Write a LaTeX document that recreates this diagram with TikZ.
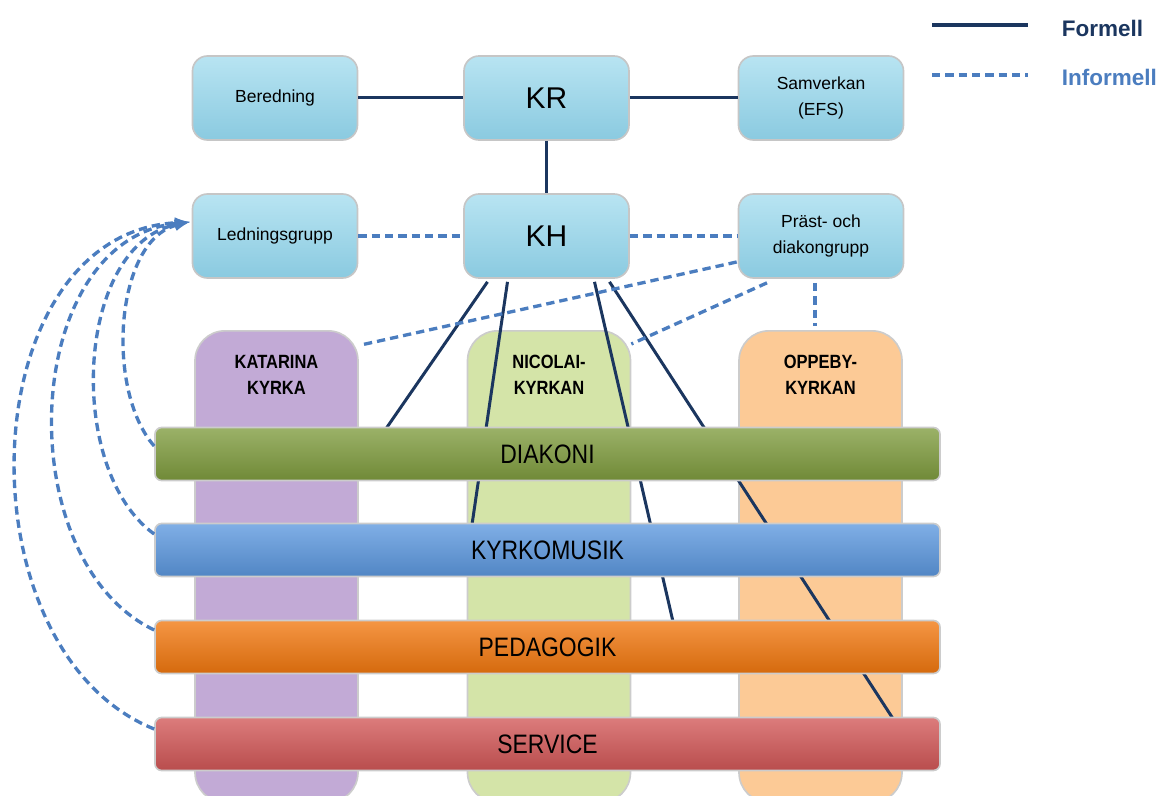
\documentclass[tikz,border=0pt]{standalone}
\usepackage{fontspec}
\setmainfont{Liberation Sans}
\newfontfamily\narrowfont{Liberation Sans}[FakeStretch=0.86]
\usepackage{xcolor}
\usetikzlibrary{calc}
\pgfdeclarelayer{background}
\pgfsetlayers{background,main}
\tikzset{>=latex}
\definecolor{formellc}{HTML}{1B365F}
\definecolor{informellc}{HTML}{4B7DBF}
\definecolor{boxtop}{HTML}{B8E4F2}
\definecolor{boxbot}{HTML}{8ACAE0}
\definecolor{katarinac}{HTML}{C2AAD6}
\definecolor{nicolaic}{HTML}{D4E4A8}
\definecolor{oppebyc}{HTML}{FCCA96}
\definecolor{diakonic}{HTML}{7F9C3E}
\definecolor{musikc}{HTML}{5C98DF}
\definecolor{pedac}{HTML}{F2780F}
\definecolor{servicec}{HTML}{D25757}
\tikzset{
	box/.style={
			draw=gray!45, line width=1pt, rounded corners=9pt,
			top color=boxtop, bottom color=boxbot,
			minimum width=99pt, minimum height=50.4pt, align=center,
			font=\fontsize{10.5}{15.6}\selectfont
		},
	bigbox/.style={box, font=\fontsize{18}{20}\selectfont},
	church/.style={
			draw=gray!40, line width=1pt, rounded corners=18pt, fill=#1,
			minimum width=97.8pt, minimum height=283pt, anchor=north
		},
	churchlabel/.style={
			label distance=-42pt, align=center,
			font=\narrowfont\bfseries\fontsize{11.5}{15.6}\selectfont
		},
	bar/.style={
			draw=gray!40, line width=1pt, rounded corners=4pt,
			top color=#1!78!white, bottom color=#1!88!black,
			minimum width=471pt, minimum height=31.8pt,
			font=\narrowfont\fontsize{16}{18}\selectfont
		},
	formell/.style={draw=formellc, line width=1.8pt},
	informell/.style={draw=informellc, line width=2pt, dash pattern=on 5pt off 3pt}
}

\begin{document}
\begin{tikzpicture}[x=0.6pt,y=-0.6pt]
	\useasboundingbox (0,0) rectangle (1163,796);

	% legend
	\coordinate (formA) at (932,25);
	\coordinate (formB) at (1028,25);
	\coordinate (infA) at (932,75);
	\coordinate (infB) at (1028,75);
	\node[anchor=west, text=formellc, font=\bfseries\fontsize{13.5}{16}\selectfont] (formtxt) at (1056,28) {Formell};
	\node[anchor=west, text=informellc, font=\bfseries\fontsize{13.5}{16}\selectfont] (inftxt) at (1056,77) {Informell};
	\draw[formell, line width=2.4pt] (formA) -- (formB);
	\draw[informell, line width=2.4pt] (infA) -- (infB);

	% boxes
	\node[box] (beredning) at (275,98) {Beredning};
	\node[bigbox] (kr) at (546.5,98) {KR};
	\node[box] (samverkan) at (821,98) {Samverkan\\(EFS)};
	\node[box] (ledning) at (275,236) {Ledningsgrupp};
	\node[bigbox] (kh) at (546.5,236) {KH};
	\node[box] (prast) at (821,236) {Präst- och\\diakongrupp};

	% bars
	\node[bar=diakonic] (diakoni) at (547.5,454) {DIAKONI};
	\node[bar=musikc] (kyrkomusik) at (547.5,550) {KYRKOMUSIK};
	\node[bar=pedac] (pedagogik) at (547.5,647) {PEDAGOGIK};
	\node[bar=servicec] (service) at (547.5,744) {SERVICE};

	% churches and KH lines behind the bars
	\begin{pgfonlayer}{background}
		\node[church=katarinac, label={[churchlabel]90:{KATARINA\\KYRKA}}] (katarina) at (276.5,330) {};
		\node[church=nicolaic, label={[churchlabel]90:{NICOLAI-\\KYRKAN}}] (nicolai) at (549,330) {};
		\node[church=oppebyc, label={[churchlabel]90:{OPPEBY-\\KYRKAN}}] (oppeby) at (820.5,330) {};

		\draw[formell] ($(kh.south)+(-59,3)$) -- ($(diakoni.north)+(-161.5,2)$);
		\draw[formell] ($(kh.south)+(-39,3)$) -- ($(kyrkomusik.north)+(-75.5,2)$);
		\draw[formell] ($(kh.south)+(48,3)$) -- ($(pedagogik.north)+(125.5,2)$);
		\draw[formell] ($(kh.south)+(63,3)$) -- ($(service.north)+(345.5,2)$);
	\end{pgfonlayer}

	\draw[formell] (beredning) -- (kr);
	\draw[formell] (kr) -- (samverkan);
	\draw[formell] (kr) -- (kh);

	% informal
	\draw[informell] (ledning) -- (kh);
	\draw[informell] (kh) -- (prast);
	\draw[informell] ($(prast.west)+(-1,26)$) -- ($(katarina.north east)+(2,15)$);
	\draw[informell] ($(prast.south)+(-54,4)$) -- ($(nicolai.north east)+(0,14)$);
	\draw[informell] ($(prast.south)+(-6,4)$) -- ($(oppeby.north)+(-5.5,-4)$);

	\draw[informell,->] ($(diakoni.west)+(0,-8)$) .. controls (105,390) and (115,240) .. ($(ledning.west)+(-2,-14)$);
	\draw[informell,->] ($(kyrkomusik.west)+(0,-16)$) .. controls (65,470) and (75,244) .. ($(ledning.west)+(-2,-14)$);
	\draw[informell,->] ($(pedagogik.west)+(0,-17)$) .. controls (8,560) and (20,240) .. ($(ledning.west)+(-2,-14)$);
	\draw[informell,->] ($(service.west)+(0,-15)$) .. controls (-42,650) and (-30,234) .. ($(ledning.west)+(-2,-14)$);
\end{tikzpicture}
\end{document}
